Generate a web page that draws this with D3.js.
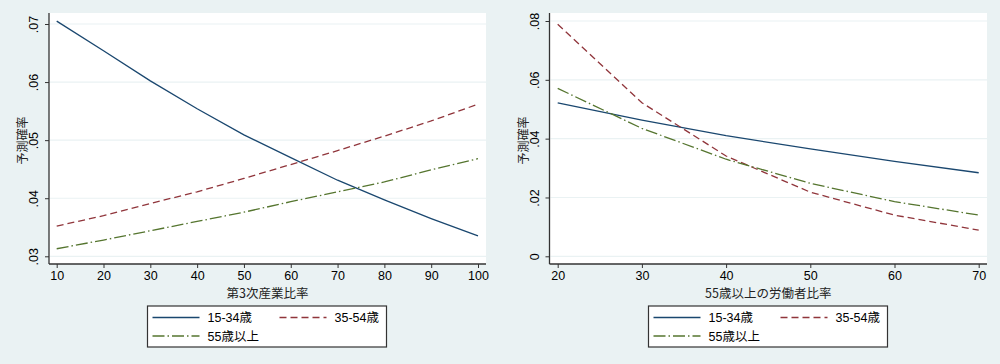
<!DOCTYPE html>
<html><head><meta charset="utf-8">
<script src="https://cdn.jsdelivr.net/npm/d3@7"></script>
<style>
body{margin:0;background:#eaf2f3;}
svg{display:block;font-family:"Liberation Sans","Noto Sans CJK JP",sans-serif;}
</style></head><body>
<svg id="c" width="1000" height="364"></svg>
<script>
const seriesNames = ["15-34歳", "35-54歳", "55歳以上"];
const seriesColors = ["#1a476f", "#90353b", "#55752f"];
const seriesDash = [null, "7,4", "12,3,1.5,3"];

const leftX = [10, 20, 30, 40, 50, 60, 70, 80, 90, 100];
const left1534 = [0.0705, 0.0654, 0.0602, 0.0554, 0.0509, 0.0470, 0.0431, 0.0397, 0.0365, 0.0335];
const left3554 = [0.0352, 0.0370, 0.0391, 0.0411, 0.0434, 0.0458, 0.0482, 0.0507, 0.0533, 0.0562];
const left55 = [0.0313, 0.0328, 0.0344, 0.0360, 0.0376, 0.0394, 0.0411, 0.0428, 0.0449, 0.0468];
const leftYTicks = [0.03, 0.04, 0.05, 0.06, 0.07];
const leftXTitle = "第3次産業比率";

const rightX = [20, 30, 40, 50, 60, 70];
const right1534 = [0.0522, 0.0463, 0.0410, 0.0365, 0.0323, 0.0284];
const right3554 = [0.0789, 0.0522, 0.0341, 0.0218, 0.0140, 0.0089];
const right55 = [0.0571, 0.0435, 0.0330, 0.0248, 0.0186, 0.0140];
const rightYTicks = [0, 0.02, 0.04, 0.06, 0.08];
const rightXTitle = "55歳以上の労働者比率";

const yTitle = "予測確率";

const svg = d3.select("#c");
const fmt = v => v === 0 ? "0" : d3.format(".2f")(v).replace(/^0/, "");

function panel(cfg) {
  const g = svg.append("g");
  const x = d3.scaleLinear().domain(cfg.xDomain).range(cfg.xRange);
  const y = d3.scaleLinear().domain(cfg.yDomain).range(cfg.yRange);
  // plot region
  g.append("rect").attr("x", cfg.left).attr("y", cfg.top)
    .attr("width", cfg.right - cfg.left).attr("height", cfg.bottom - cfg.top)
    .attr("fill", "#ffffff");
  // gridlines
  g.selectAll(".grid").data(cfg.yTicks).join("line")
    .attr("x1", cfg.left + 1).attr("x2", cfg.right)
    .attr("y1", d => y(d)).attr("y2", d => y(d))
    .attr("stroke", "#eaf2f3").attr("stroke-width", 1.2);
  // lines
  const line = d3.line().x(d => x(d[0])).y(d => y(d[1]));
  cfg.series.forEach((s, i) => {
    g.append("path").datum(cfg.xs.map((xv, j) => [xv, s[j]]))
      .attr("d", line).attr("fill", "none")
      .attr("stroke", seriesColors[i]).attr("stroke-width", 1.3)
      .attr("stroke-dasharray", seriesDash[i]);
  });
  // axes
  const xa = d3.axisBottom(x).tickValues(cfg.xTicks).tickSize(4).tickPadding(3).tickFormat(d3.format("d"));
  const xg = g.append("g").attr("transform", `translate(0,${cfg.bottom})`).call(xa);
  xg.select(".domain").attr("d", `M${cfg.left},0H${cfg.right}`).attr("stroke", "#333").attr("stroke-width", 1.3);
  xg.selectAll(".tick line").attr("stroke", "#333");
  xg.selectAll(".tick text").attr("font-size", 12.5).attr("fill", "#000").attr("font-family", "Liberation Sans");
  const ya = d3.axisLeft(y).tickValues(cfg.yTicks).tickSize(4).tickPadding(3).tickFormat(fmt);
  const yg = g.append("g").attr("transform", `translate(${cfg.left},0)`).call(ya);
  yg.select(".domain").attr("d", `M0,${cfg.top}V${cfg.bottom}`).attr("stroke", "#333").attr("stroke-width", 1.3);
  yg.selectAll(".tick line").attr("stroke", "#333");
  yg.selectAll(".tick text").attr("font-size", 12.5).attr("fill", "#000")
    .attr("font-family", "Liberation Sans")
    .attr("text-anchor", "middle").attr("dy", null)
    .attr("transform", "rotate(-90)")
    .attr("x", 0).attr("y", -11);
  yg.selectAll(".tick text").each(function(d) {
    d3.select(this).attr("transform", `translate(-11,0) rotate(-90)`).attr("x", 0).attr("y", 0);
  });
  // titles
  g.append("text").attr("x", (cfg.left + cfg.right) / 2 + cfg.xTitleDx).attr("y", 298)
    .attr("text-anchor", "middle").attr("font-size", 12.5).attr("fill", "#222")
    .attr("font-family", "Noto Sans CJK JP")
    .text(cfg.xTitle);
  g.append("text").attr("transform", `translate(${cfg.left - 22},${(cfg.top + cfg.bottom) / 2 + 2}) rotate(-90)`)
    .attr("text-anchor", "middle").attr("font-size", 12).attr("fill", "#222")
    .attr("font-family", "Noto Sans CJK JP")
    .text(yTitle);
  // legend
  const lg = g.append("g").attr("transform", `translate(${cfg.legendX},306)`);
  lg.append("rect").attr("x", 0).attr("y", 0).attr("width", 239).attr("height", 41)
    .attr("fill", "#fff").attr("stroke", "#333").attr("stroke-width", 1.2);
  const pos = [[0, 0], [1, 0], [0, 1]];
  seriesNames.forEach((n, i) => {
    const cx = pos[i][0] * 127, cy = 11.5 + pos[i][1] * 18.5;
    lg.append("line").attr("x1", 5 + cx).attr("x2", 52 + cx).attr("y1", cy).attr("y2", cy)
      .attr("stroke", seriesColors[i]).attr("stroke-width", 1.3)
      .attr("stroke-dasharray", seriesDash[i]);
    lg.append("text").attr("x", 60 + cx - (i === 1 ? 0 : 0)).attr("y", cy + 4.5)
      .attr("font-size", 12.5).attr("fill", "#000")
      .text(n);
  });
}

panel({
  left: 49, right: 486, top: 13, bottom: 264,
  xDomain: [10, 100], xRange: [56.7, 478],
  yDomain: [0.03, 0.07], yRange: [256.3, 24],
  xs: leftX, series: [left1534, left3554, left55],
  xTicks: leftX, yTicks: leftYTicks, xTitle: leftXTitle, xTitleDx: 0,
  legendX: 147.5
});
panel({
  left: 549.5, right: 987, top: 13, bottom: 264,
  xDomain: [20, 70], xRange: [557.7, 978.7],
  yDomain: [0, 0.08], yRange: [256.3, 21],
  xs: rightX, series: [right1534, right3554, right55],
  xTicks: rightX, yTicks: rightYTicks, xTitle: rightXTitle, xTitleDx: 0,
  legendX: 648.5
});
</script></body></html>
